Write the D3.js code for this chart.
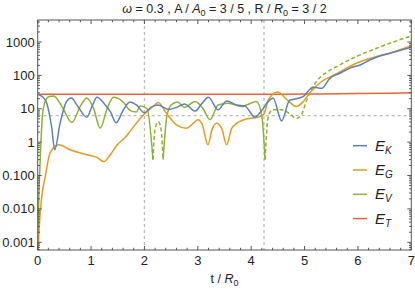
<!DOCTYPE html>
<html><head><meta charset="utf-8">
<script src="https://cdn.jsdelivr.net/npm/d3@7"></script>
<style>body{margin:0;background:#fff}svg{display:block}text{font-family:"Liberation Sans",Arial,sans-serif}</style>
</head><body><svg id="c" width="415" height="291"></svg>
<script>
// ---- data ----
const xTicks = [0,1,2,3,4,5,6,7];
const yTicks = [0.001,0.01,0.1,1,10,100,1000];
const yTickLabels = ["0.001","0.010","0.100","1","10","100","1000"];
const gridX = [2, 4.24];
const gridY = [6.2];

const tK = [0,0.1,0.17,0.26,0.32,0.42,0.54,0.63,0.75,0.92,1.02,1.11,1.25,1.36,1.47,1.6,1.73,1.85,2.0,2.12,2.25,2.45,2.6,2.75,2.95,3.07,3.2,3.38,3.54,3.73,3.88,4.07,4.2,4.32,4.41,4.57,4.72,4.85,4.97,5.16,5.32,5.47,5.66,5.85,6.04,6.22,6.41,6.6,7.0];
const vK = [27,22,14.7,2.9,0.59,3.7,16.5,21,12,5.6,12,22,14,8.3,3.8,9,16,13,7.6,11,13,9.5,11,14,8.5,14,22,9.3,17,13,12.2,5.6,9,16.5,21,4.3,18,20,23,44,41,80,116,165,205,290,380,460,700];

const tG = [0.008,0.03,0.075,0.14,0.23,0.39,0.61,0.92,1.11,1.24,1.36,1.49,1.66,1.73,1.98,2.17,2.26,2.41,2.6,2.79,2.9,3.0,3.08,3.19,3.27,3.35,3.45,3.54,3.63,3.73,3.85,4.07,4.16,4.24,4.32,4.5,4.65,4.85,4.97,5.1,5.29,5.6,5.97,6.35,6.6,7.0];
const vG = [0.0006,0.003,0.023,0.09,0.47,0.83,0.59,0.42,0.35,0.26,0.42,0.83,1.5,2.1,6.5,12,15.5,7.4,3.3,2.6,3.5,4.7,3.5,0.83,2.5,3.7,2.5,0.83,2.5,3.7,4.6,5.4,5.8,7,18.5,32,20,11.7,16,30,60,112,231,366,470,780];

// E_V: solid where positive, dashed where negative (|E_V| plotted)
const tV1 = [0.005,0.02,0.04,0.075,0.1,0.2,0.3,0.45,0.64,0.8,0.92,1.05,1.17,1.3,1.42,1.6,1.73,1.85,1.92,2.05,2.16];
const vV1 = [0.0006,0.02,0.15,2.9,9.3,23,24,12,3.9,12,21,10,2.6,10,22,16,9,8,12,10,0.3];
const tV2 = [2.16,2.2,2.26,2.31,2.35];
const vV2 = [0.3,2.5,4.1,2.5,0.3];
const tV3 = [2.35,2.42,2.5,2.62,2.75,2.95,3.1,3.23,3.38,3.57,3.82,4.1,4.2,4.26];
const vV3 = [0.3,6,13,16,11,16.5,10,4.7,13,14.7,11.7,16.5,6,0.3];
const tV4 = [4.26,4.32,4.4,4.57,4.7,4.85,4.94,5.05,5.19,5.3,5.45,5.6,5.97,6.35,6.6,7.0];
const vV4 = [0.3,5.8,9.3,9.3,7.5,5.2,6.6,20,55,90,135,184,366,650,920,1520];

const tT = [0,2,4,5,6,7];
const vT = [27,27,27,27.5,28.5,30];

const colors = {K:"#5E81B5", G:"#E19C24", V:"#8FB032", T:"#EB6235"};
const legendItems = [["K",colors.K],["G",colors.G],["V",colors.V],["T",colors.T]];

// ---- scales ----
const svg = d3.select("#c");
const L=37.7, R=411.3, T=20, B=250;
const x = d3.scaleLinear().domain([0,7]).range([L,R]);
const dec = (242.3-42)/6;
const y = d3.scaleLog().domain([Math.pow(10,-3-(B-242.3)/dec), Math.pow(10,3+(42-T)/dec)]).range([B,T]);

svg.append("defs").append("clipPath").attr("id","clip").append("rect")
  .attr("x",L).attr("y",T).attr("width",R-L).attr("height",B-T);

// grid
const g = svg.append("g");
g.selectAll(".gx").data(gridX).join("line").attr("x1",d=>x(d)).attr("x2",d=>x(d)).attr("y1",T).attr("y2",B)
  .attr("stroke","#bbbbbb").attr("stroke-width",1.3).attr("stroke-dasharray","3,3");
g.selectAll(".gy").data(gridY).join("line").attr("y1",d=>y(d)).attr("y2",d=>y(d)).attr("x1",L).attr("x2",R)
  .attr("stroke","#bbbbbb").attr("stroke-width",1.3).attr("stroke-dasharray","3,3");

// lines
const line = d3.line().x(d=>x(d[0])).y(d=>y(d[1])).curve(d3.curveMonotoneX);
const plot = svg.append("g").attr("clip-path","url(#clip)");
function draw(ts,vs,col,dash){
  plot.append("path").datum(ts.map((t,i)=>[t,vs[i]])).attr("d",line)
    .attr("fill","none").attr("stroke",col).attr("stroke-width",1.5)
    .attr("stroke-dasharray",dash||null);
}
draw(tT,vT,colors.T);
draw(tV1,vV1,colors.V);
draw(tV2,vV2,colors.V,"4,2.5");
draw(tV3,vV3,colors.V);
draw(tV4,vV4,colors.V,"4,2.5");
draw(tG,vG,colors.G);
draw(tK,vK,colors.K);

// frame
const fc="#555";
svg.append("rect").attr("x",L).attr("y",T).attr("width",R-L).attr("height",B-T)
  .attr("fill","none").attr("stroke",fc).attr("stroke-width",1);

// ticks
const tk = svg.append("g").attr("stroke",fc).attr("stroke-width",1);
const xMinor = d3.range(0,7.001,0.2).map(v=>+v.toFixed(2)).filter(v=>!xTicks.includes(v));
xTicks.forEach(v=>{
  tk.append("line").attr("x1",x(v)).attr("x2",x(v)).attr("y1",B).attr("y2",B-4);
  tk.append("line").attr("x1",x(v)).attr("x2",x(v)).attr("y1",T).attr("y2",T+4);
});
xMinor.forEach(v=>{
  tk.append("line").attr("x1",x(v)).attr("x2",x(v)).attr("y1",B).attr("y2",B-2.2);
  tk.append("line").attr("x1",x(v)).attr("x2",x(v)).attr("y1",T).attr("y2",T+2.2);
});
const yMinor=[];
[-4,-3,-2,-1,0,1,2,3].forEach(e=>{for(let m=2;m<=9;m++){const v=m*Math.pow(10,e); if(v>y.domain()[0]&&v<y.domain()[1]) yMinor.push(v);}});
yTicks.forEach(v=>{
  tk.append("line").attr("y1",y(v)).attr("y2",y(v)).attr("x1",L).attr("x2",L+4);
  tk.append("line").attr("y1",y(v)).attr("y2",y(v)).attr("x1",R).attr("x2",R-4);
});
yMinor.forEach(v=>{
  tk.append("line").attr("y1",y(v)).attr("y2",y(v)).attr("x1",L).attr("x2",L+2.2);
  tk.append("line").attr("y1",y(v)).attr("y2",y(v)).attr("x1",R).attr("x2",R-2.2);
});

// tick labels
svg.selectAll(".xl").data(xTicks).join("text").attr("x",d=>x(d)).attr("y",B+15)
  .attr("text-anchor","middle").attr("font-size",13).attr("fill","#222").text(d=>d);
svg.selectAll(".yl").data(yTicks).join("text").attr("x",L-3).attr("y",(d)=>y(d)+4.5)
  .attr("text-anchor","end").attr("font-size",13).attr("fill","#222").text((d,i)=>yTickLabels[i]);

// title
const title = svg.append("text").attr("x",(L+R)/2).attr("y",13).attr("text-anchor","middle")
  .attr("font-size",12.5).attr("fill","#222");
title.append("tspan").attr("font-style","italic").text("ω");
title.append("tspan").text(" = 0.3 , A / ");
title.append("tspan").attr("font-style","italic").text("A");
title.append("tspan").attr("font-size",9).attr("dy",3).text("0");
title.append("tspan").attr("dy",-3).text(" = 3 / 5 , R / ");
title.append("tspan").attr("font-style","italic").text("R");
title.append("tspan").attr("font-size",9).attr("dy",3).text("0");
title.append("tspan").attr("dy",-3).text(" = 3 / 2");

// x label
const xl = svg.append("text").attr("x",(L+R)/2).attr("y",283).attr("text-anchor","middle")
  .attr("font-size",12.5).attr("fill","#222");
xl.append("tspan").text("t / ");
xl.append("tspan").attr("font-style","italic").text("R");
xl.append("tspan").attr("font-size",9).attr("dy",3).text("0");

// legend
const lg = svg.append("g");
legendItems.forEach((it,i)=>{
  const yy = 145.7 + i*24.3;
  lg.append("line").attr("x1",353).attr("x2",367).attr("y1",yy).attr("y2",yy)
    .attr("stroke",it[1]).attr("stroke-width",1.5);
  const t = lg.append("text").attr("x",375).attr("y",yy+5).attr("font-size",15).attr("fill","#222")
    .attr("font-style","italic");
  t.append("tspan").text("E");
  t.append("tspan").attr("font-size",10).attr("dy",3).text(it[0]);
});
</script></body></html>
